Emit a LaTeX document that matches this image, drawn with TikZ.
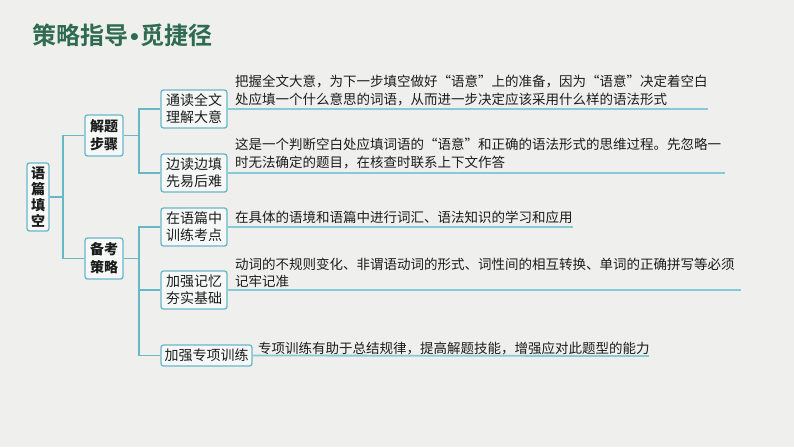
\documentclass[tikz,border=0pt]{standalone}
\usepackage{fontspec}
\setmainfont{Noto Sans CJK SC}
\newfontfamily\cjkb{Noto Sans CJK SC}[BoldFont={* Bold}]
\newfontfamily\dejavu{DejaVu Sans}
\definecolor{bgc}{HTML}{EFEFEE}
\definecolor{linec}{HTML}{68B7C6}
\definecolor{ulc}{HTML}{86CAD6}
\definecolor{boxfill}{HTML}{F6F8F8}
\definecolor{titlec}{HTML}{2F6B50}
\definecolor{txtc}{HTML}{1C1C1C}
\tikzset{
  tbox/.style={draw=linec, line width=1.3pt, fill=boxfill, rounded corners=2.5pt,
    align=center, inner sep=0pt, text=txtc, font=\fontsize{14}{17}\selectfont},
  conn/.style={draw=linec, line width=1.3pt},
  uline/.style={draw=ulc, line width=1.8pt},
  desc/.style={anchor=base west, inner sep=0pt, text=txtc, font=\fontsize{13.5}{17}\selectfont},
}
\begin{document}
\begin{tikzpicture}[x=1pt,y=-1pt]
\fill[bgc] (0,0) rectangle (794,447);
\useasboundingbox (0,0) rectangle (794,447);
% title
\node[anchor=west, inner sep=0pt, text=titlec, font=\cjkb\bfseries\fontsize{24}{28}\selectfont] (title) at (32,35) {策略指导{\dejavu\bfseries\fontsize{20}{24}\selectfont•}觅捷径};
% root
\node[tbox, minimum width=22pt, minimum height=68pt, font=\bfseries\fontsize{14}{16}\selectfont] (root) at (38,197) {语\\篇\\填\\空};
% level 2
\node[tbox, minimum width=38pt, minimum height=41pt, font=\bfseries\fontsize{14}{18}\selectfont] (jt) at (104,135.5) {解题\\步骤};
\node[tbox, minimum width=38pt, minimum height=41pt, font=\bfseries\fontsize{14}{18}\selectfont] (bk) at (104,258.5) {备考\\策略};
% level 3
\node[tbox, minimum width=66pt, minimum height=38pt] (a1) at (194,109) {通读全文\\理解大意};
\node[tbox, minimum width=66pt, minimum height=38pt] (a2) at (194,173) {边读边填\\先易后难};
\node[tbox, minimum width=66pt, minimum height=38pt] (b1) at (194,227) {在语篇中\\训练考点};
\node[tbox, minimum width=66pt, minimum height=38pt] (b2) at (194,290) {加强记忆\\夯实基础};
\node[tbox, minimum width=91pt, minimum height=21pt] (b3) at (206.5,355.5) {加强专项训练};
% connectors
\coordinate (j0) at (63,197);
\coordinate (j1) at (139,135.5);
\coordinate (j2) at (139,258.5);
\draw[conn] (root.east) -- (j0);
\draw[conn] (j0) |- (jt.west);
\draw[conn] (j0) |- (bk.west);
\draw[conn] (jt.east) -- (j1);
\draw[conn] (j1) |- (a1.west);
\draw[conn] (j1) |- (a2.west);
\draw[conn] (bk.east) -- (j2);
\draw[conn] (j2) |- (b1.west);
\draw[conn] (j2) |- (b2.west);
\draw[conn] (j2) |- (b3.west);
% underlines
\coordinate (e1) at (708,109);
\coordinate (e2) at (725,173);
\coordinate (e3) at (573,227);
\coordinate (e4) at (741,290);
\coordinate (e5) at (649,356);
\draw[uline] (a1.east) -- (e1);
\draw[uline] (a2.east) -- (e2);
\draw[uline] (b1.east) -- (e3);
\draw[uline] (b2.east) -- (e4);
\draw[uline] (b3.east) -- (e5);
% descriptions
\node[desc] (t11) at (235,86) {把握全文大意，为下一步填空做好“语意”上的准备，因为“语意”决定着空白};
\node[desc] (t12) at (235,104) {处应填一个什么意思的词语，从而进一步决定应该采用什么样的语法形式};
\node[desc] (t21) at (235,149) {这是一个判断空白处应填词语的“语意”和正确的语法形式的思维过程。先忽略一};
\node[desc] (t22) at (235,167) {时无法确定的题目，在核查时联系上下文作答};
\node[desc] (t31) at (235,222) {在具体的语境和语篇中进行词汇、语法知识的学习和应用};
\node[desc] (t41) at (235,269) {动词的不规则变化、非谓语动词的形式、词性间的相互转换、单词的正确拼写等必须};
\node[desc] (t42) at (235,286) {记牢记准};
\node[desc] (t51) at (258,353) {专项训练有助于总结规律，提高解题技能，增强应对此题型的能力};
\end{tikzpicture}
\end{document}
